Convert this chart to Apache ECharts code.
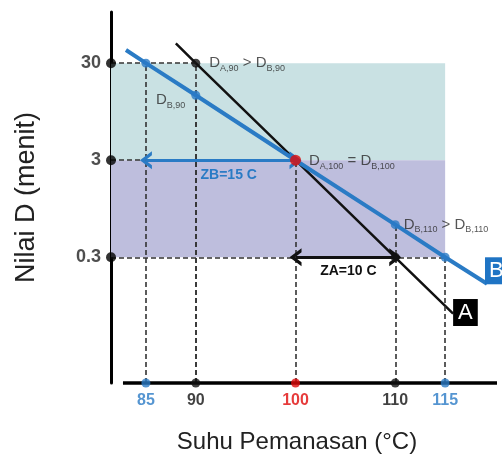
<!DOCTYPE html>
<html>
<head>
<meta charset="utf-8">
<script src="https://cdn.jsdelivr.net/npm/echarts@6/dist/echarts.min.js"></script>
<style>
  html, body { margin: 0; padding: 0; background: #fff; }
  #chart { width: 502px; height: 469px; }
</style>
</head>
<body>
<div id="chart"></div>
<script>
// Temperature ticks (°C) and D-value ticks (minutes, log scale)
const xTicks = [85, 90, 100, 110, 115];
const yTicks = [0.3, 3, 30];

// Survivor-time lines for organisms A and B: [temperature, D]
const lineA = [[88, 48], [90, 30], [100, 3], [110, 0.3], [115.8, 0.079]];
const lineB = [[83, 41], [85, 30], [90, 14], [100, 3], [110, 0.65], [115, 0.3], [119.2, 0.16]];

// Marked points
const pointsA = [[90, 30], [110, 0.3]];
const pointsB = [[85, 30], [90, 14], [110, 0.65], [115, 0.3]];
const pointEqual = [[100, 3]];

// Z-value spans: [fromT, toT, D]
const spanB = [85, 100, 3];
const spanA = [100, 110, 0.3];

// Shaded D bands: [lowD, highD] up to temperature limit
const bandUpper = [3, 30];
const bandLower = [0.3, 3];
const bandEndT = 115;

const X_MIN = 81.5, X_MAX = 120.2;
const Y_MIN = 0.0152, Y_MAX = 101;
const X_LINE_START = 82.7;

const BLUE = '#2a7bc5';
const BLACK = '#111';
const RED = '#e00a0a';
const FONT = 'Liberation Sans, Arial, sans-serif';

const tickColor = { 85: BLUE, 90: BLACK, 100: RED, 110: BLACK, 115: BLUE };

const richSub = {
  d: { fontSize: 15, color: '#2a2a2a', lineHeight: 19, verticalAlign: 'middle', fontFamily: FONT },
  s: { fontSize: 9, color: '#2a2a2a', lineHeight: 19, verticalAlign: 'bottom', fontFamily: FONT }
};

function pointLabel(text, position, offset) {
  return {
    show: true, position: position, distance: 6, offset: offset || [0, 0],
    formatter: text, rich: richSub
  };
}

// open chevron used as arrowhead
const chevron = 'path://M0,12 L10,0 L20,12 L15.5,12 L10,5.5 L4.5,12 Z';

// dashed guides from key points to axes
const guides = [];
pointsB.concat(pointsA).concat(pointEqual).forEach(function (p) {
  if (p[0] === 110 && p[1] === 0.3) return; // covered by the D_B,110 guide
  guides.push([{ coord: [p[0], Y_MIN] }, { coord: [p[0], p[1]] }]);
});
[[90, 30], [100, 3], [115, 0.3]].forEach(function (p) {
  guides.push([{ coord: [X_MIN, p[1]] }, { coord: [p[0], p[1]] }]);
});

const option = {
  animation: false,
  backgroundColor: '#fff',
  textStyle: { fontFamily: FONT },
  grid: { left: 111, right: 5, top: 12, bottom: 86 },
  xAxis: {
    type: 'value', min: X_MIN, max: X_MAX,
    axisLine: { show: false }, axisTick: { show: false },
    axisLabel: { show: false }, splitLine: { show: false },
    name: 'Suhu Pemanasan (°C)', nameLocation: 'middle', nameGap: 47,
    nameTextStyle: { fontSize: 24, color: '#222', fontFamily: FONT, padding: [0, 14, 0, 0] }
  },
  yAxis: {
    type: 'log', logBase: 10, min: Y_MIN, max: Y_MAX,
    axisLine: { show: true, lineStyle: { color: '#000', width: 3 } },
    axisTick: { show: false }, axisLabel: { show: false }, splitLine: { show: false },
    name: 'Nilai D (menit)', nameLocation: 'middle', nameRotate: 90, nameGap: 71,
    nameTextStyle: { fontSize: 27, color: '#222', fontFamily: FONT }
  },
  series: [
    {
      name: 'bands', type: 'line', data: [], z: 1, silent: true,
      markArea: {
        silent: true,
        data: [
          [{ coord: [X_MIN, bandUpper[1]], itemStyle: { color: '#c9e1e3' } }, { coord: [bandEndT, bandUpper[0]] }],
          [{ coord: [X_MIN, bandLower[1]], itemStyle: { color: '#bebedd' } }, { coord: [bandEndT, bandLower[0]] }]
        ]
      }
    },
    {
      name: 'guides', type: 'line', data: [], z: 2, silent: true,
      markLine: {
        silent: true, symbol: ['none', 'none'], label: { show: false },
        lineStyle: { color: '#333', width: 1.6, type: [5, 3] },
        data: guides
      }
    },
    {
      name: 'xAxisLine', type: 'line', data: [], z: 3, silent: true,
      markLine: {
        silent: true, symbol: ['none', 'none'], label: { show: false },
        lineStyle: { color: '#000', width: 3.5, type: 'solid' },
        data: [[{ coord: [X_LINE_START, Y_MIN] }, { coord: [X_MAX, Y_MIN] }]]
      }
    },
    {
      name: 'A', type: 'line', data: lineA, z: 4, showSymbol: false, clip: false,
      lineStyle: { color: BLACK, width: 2.5 }, itemStyle: { color: BLACK },
      endLabel: {
        show: true, formatter: 'A', color: '#fff', backgroundColor: '#000',
        fontSize: 22, fontFamily: FONT, padding: [3, 5, 2, 5], distance: 0, offset: [0, -1]
      }
    },
    {
      name: 'B', type: 'line', data: lineB, z: 5, showSymbol: false, clip: false,
      lineStyle: { color: BLUE, width: 4 }, itemStyle: { color: BLUE },
      endLabel: {
        show: true, formatter: 'B', color: '#fff', backgroundColor: '#1f74c4',
        fontSize: 22, fontFamily: FONT, padding: [3, 6, 2, 4], distance: 0, offset: [-2, -13]
      }
    },
    {
      name: 'spans', type: 'line', data: [], z: 6, silent: true,
      markLine: {
        silent: true, symbol: [chevron, chevron], symbolSize: [18, 12],
        data: [
          [{ coord: [spanB[0], spanB[2]], lineStyle: { color: BLUE, width: 3, type: 'solid' },
             label: { show: true, formatter: 'ZB=15 C', position: 'insideMiddleBottom', distance: 8,
                      color: BLUE, fontSize: 14, fontWeight: 'bold', fontFamily: FONT, padding: [0, 0, 0, 16] },
             itemStyle: { color: BLUE } },
           { coord: [spanB[1], spanB[2]] }],
          [{ coord: [spanA[0], spanA[2]], lineStyle: { color: BLACK, width: 3, type: 'solid' },
             label: { show: true, formatter: 'ZA=10 C', position: 'insideMiddleBottom', distance: 7,
                      color: '#111', fontSize: 14, fontWeight: 'bold', fontFamily: FONT, padding: [0, 0, 0, 6] },
             itemStyle: { color: BLACK } },
           { coord: [spanA[1], spanA[2]] }]
        ]
      }
    },
    {
      name: 'pointsA', type: 'scatter', z: 8, clip: false, symbolSize: 9,
      itemStyle: { color: BLACK },
      data: [
        { value: pointsA[0], label: pointLabel('{d|D}{s|A,90}{d| > D}{s|B,90}', 'right', [3, 0]) },
        { value: pointsA[1] }
      ]
    },
    {
      name: 'pointsB', type: 'scatter', z: 8, clip: false, symbolSize: 9,
      itemStyle: { color: BLUE },
      data: [
        { value: pointsB[0] },
        { value: pointsB[1], label: pointLabel('{d|D}{s|B,90}', 'left', [0, 5]) },
        { value: pointsB[2], label: pointLabel('{d|D}{s|B,110}{d| > D}{s|B,110}', 'right', [-2, 0]) },
        { value: pointsB[3] }
      ]
    },
    {
      name: 'equal', type: 'scatter', z: 9, clip: false, symbolSize: 11,
      itemStyle: { color: RED },
      data: [{ value: pointEqual[0], label: pointLabel('{d|D}{s|A,100}{d| = D}{s|B,100}', 'right', [2, 1]) }]
    },
    {
      name: 'xTicks', type: 'scatter', z: 9, clip: false, symbolSize: 9,
      data: xTicks.map(function (t) {
        return {
          value: [t, Y_MIN],
          itemStyle: { color: tickColor[t] },
          label: {
            show: true, position: 'bottom', distance: 5, formatter: String(t),
            color: tickColor[t], fontSize: 16, fontWeight: 'bold', fontFamily: FONT
          }
        };
      })
    },
    {
      name: 'yTicks', type: 'scatter', z: 9, clip: false, symbolSize: 10,
      itemStyle: { color: '#000' },
      data: yTicks.map(function (v) {
        return {
          value: [X_MIN, v],
          label: {
            show: true, position: 'left', distance: 5, formatter: String(v),
            color: '#222', fontSize: 18, fontWeight: 'bold', fontFamily: FONT
          }
        };
      })
    }
  ]
};

const chart = echarts.init(document.getElementById('chart'), null, { renderer: 'canvas' });
chart.setOption(option);
</script>
</body>
</html>
